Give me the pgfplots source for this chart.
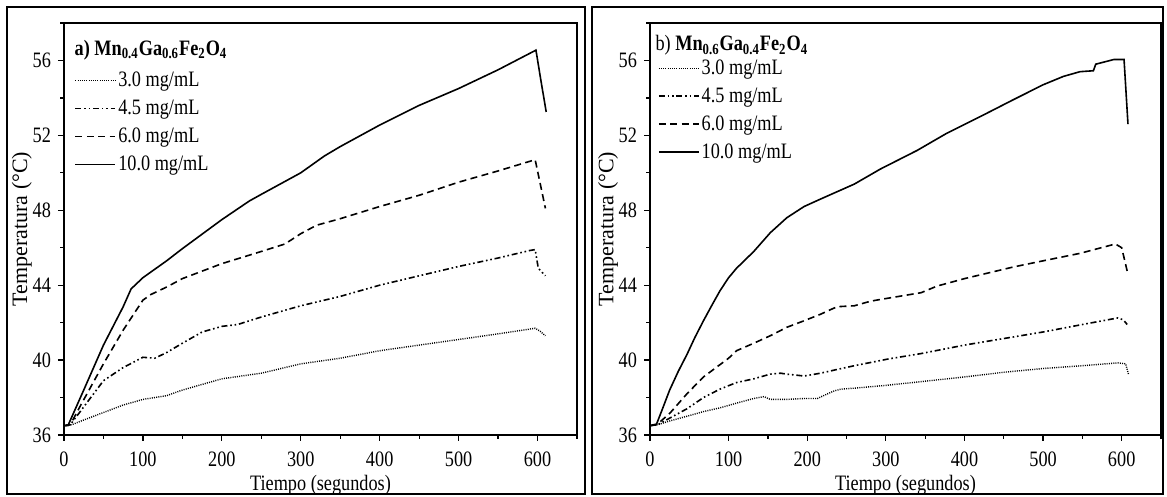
\documentclass[border=0pt]{standalone}
\usepackage{fontspec}
\setmainfont{Liberation Serif}[FakeStretch=0.83]
\newfontfamily\ylabfont{Liberation Serif}
\usepackage{pgfplots}
\pgfplotsset{compat=1.18}

\pgfplotsset{
  heatfig/.style={
    scale only axis, height=206pt,
    xmin=0, xmax=650, ymin=36, ymax=58,
    xtick={0,100,...,600}, minor xtick={50,150,...,650},
    ytick={36,40,...,56}, minor ytick={38,42,...,58},
    tick pos=left, tick align=outside,
    major tick length=3pt, minor tick length=1.8pt,
    every tick/.style={black, line width=0.6pt},
    axis line style={line width=0.75pt},
    /pgf/number format/assume math mode=true,
    tick label style={font=\fontsize{11}{13}\selectfont},
    xticklabel style={yshift=-2pt},
    label style={font=\fontsize{11}{13}\selectfont},
    xlabel={Tiempo (segundos)}, ylabel={Temperatura (°C)},
    xlabel style={at={(rel axis cs:0.5,-0.122)}, anchor=center},
    ylabel style={at={(rel axis cs:-0.082,0.5)}, anchor=center, font=\fontsize{11}{13}\ylabfont},
    legend cell align=left,
    legend style={draw=none, fill=none, font=\fontsize{11}{13}\selectfont,
                  row sep=4pt, inner xsep=0pt, nodes={inner ysep=0.6pt, inner xsep=1pt}},
    legend image code/.code={\draw[#1] (0pt,0pt) -- (20pt,0pt);},
  },
  c3/.style={black, line width=0.7pt, dash pattern=on 0.5pt off 0.6pt},
  c45/.style={black, line width=0.8pt, dash pattern=on 3pt off 1.4pt on 0.8pt off 1.4pt on 0.8pt off 1.4pt},
  c6/.style={black, line width=0.8pt, dash pattern=on 3.5pt off 2.2pt},
  c10/.style={black, line width=0.8pt},
}

\begin{document}
\begin{tikzpicture}
\draw[line width=0.7pt] (3.5pt,1.5pt) rectangle (292.5pt,245pt);
\draw[line width=0.7pt] (296pt,1.5pt) rectangle (581.5pt,245pt);

% a) Mn0.4Ga0.6Fe2O4
\begin{axis}[heatfig, width=256.5pt, at={(32pt,31pt)}, anchor=south west,
  legend style={at={(rel axis cs:0.02,0.895)}, anchor=north west}]
\addplot[c3] coordinates {(0,36.5) (10,36.55) (25,36.8) (50,37.2) (75,37.6) (100,37.9) (130,38.1) (150,38.4) (175,38.7) (200,39.0) (250,39.3) (300,39.8) (350,40.1) (400,40.5) (450,40.8) (500,41.1) (550,41.4) (597,41.7) (603,41.55) (610,41.3)};
\addlegendentry{3.0 mg/mL}
\addplot[c45] coordinates {(0,36.5) (8,36.55) (25,37.5) (50,38.9) (75,39.6) (100,40.15) (115,40.1) (130,40.4) (150,40.9) (175,41.5) (200,41.8) (220,41.9) (250,42.3) (300,42.9) (350,43.4) (400,44.0) (450,44.5) (500,45.0) (550,45.45) (590,45.85) (597,45.9) (601,44.9) (610,44.5)};
\addlegendentry{4.5 mg/mL}
\addplot[c6] coordinates {(0,36.5) (8,36.55) (20,37.5) (50,39.8) (75,41.6) (100,43.2) (110,43.5) (130,43.9) (150,44.35) (200,45.15) (250,45.8) (280,46.2) (300,46.75) (320,47.2) (350,47.55) (400,48.2) (450,48.8) (500,49.5) (550,50.1) (597,50.7) (603,49.5) (610,48.1)};
\addlegendentry{6.0 mg/mL}
\addplot[c10] coordinates {(0,36.5) (5,36.5) (25,38.4) (50,40.8) (75,42.85) (85,43.8) (100,44.4) (110,44.7) (130,45.3) (150,45.95) (200,47.5) (235,48.5) (250,48.85) (300,50.0) (330,50.9) (350,51.4) (400,52.55) (450,53.6) (500,54.5) (550,55.5) (598,56.55) (604,55.0) (611,53.25)};
\addlegendentry{10.0 mg/mL}
\node[anchor=west, inner sep=0pt, font=\fontsize{11}{13}\selectfont\bfseries]
  at (rel axis cs:0.02,0.935) {a) Mn\textsubscript{0.4}Ga\textsubscript{0.6}Fe\textsubscript{2}O\textsubscript{4}};
\end{axis}

% b) Mn0.6Ga0.4Fe2O4
\begin{axis}[heatfig, width=255.5pt, at={(325pt,31pt)}, anchor=south west,
  legend style={at={(rel axis cs:0.015,0.925)}, anchor=north west}]
\addplot[c3] coordinates {(0,36.5) (10,36.55) (25,36.75) (47,37.0) (68,37.25) (89,37.45) (110,37.7) (132,37.95) (145,38.05) (153,37.9) (174,37.9) (196,37.95) (213,37.95) (226,38.2) (234,38.35) (243,38.45) (260,38.5) (300,38.65) (345,38.85) (400,39.1) (450,39.35) (500,39.55) (550,39.7) (595,39.85) (605,39.8) (609,39.2)};
\addlegendentry{3.0 mg/mL}
\addplot[c45] coordinates {(0,36.5) (10,36.55) (25,36.9) (47,37.4) (68,38.0) (89,38.45) (110,38.8) (132,39.0) (153,39.25) (166,39.3) (174,39.25) (196,39.15) (217,39.3) (238,39.5) (260,39.7) (302,40.05) (345,40.35) (400,40.8) (450,41.15) (500,41.5) (550,41.9) (595,42.25) (602,42.15) (607,41.9)};
\addlegendentry{4.5 mg/mL}
\addplot[c6] coordinates {(0,36.5) (10,36.6) (25,37.15) (47,38.2) (68,39.1) (100,40.1) (110,40.5) (132,40.9) (153,41.3) (174,41.75) (196,42.1) (217,42.45) (230,42.7) (238,42.85) (260,42.9) (281,43.15) (302,43.3) (345,43.6) (365,43.95) (400,44.35) (462,44.97) (500,45.3) (547,45.7) (592,46.2) (600,46.0) (607,44.75)};
\addlegendentry{6.0 mg/mL}
\addplot[c10] coordinates {(0,36.5) (8,36.55) (15,37.3) (25,38.4) (36,39.4) (47,40.3) (57,41.2) (68,42.1) (79,42.95) (89,43.7) (100,44.4) (110,44.9) (132,45.8) (153,46.8) (174,47.6) (196,48.2) (217,48.6) (260,49.4) (293,50.2) (340,51.2) (377,52.1) (420,53.0) (462,53.9) (500,54.7) (526,55.15) (547,55.4) (564,55.45) (567,55.8) (590,56.05) (603,56.05) (608,52.6)};
\addlegendentry{10.0 mg/mL}
\node[anchor=west, inner sep=0pt, font=\fontsize{11}{13}\selectfont]
  at (rel axis cs:0.01,0.945) {b) \textbf{Mn\textsubscript{0.6}Ga\textsubscript{0.4}Fe\textsubscript{2}O\textsubscript{4}}};
\end{axis}

\pgfresetboundingbox
\path (0,0) rectangle (583.5pt,248.5pt);
\end{tikzpicture}
\end{document}
